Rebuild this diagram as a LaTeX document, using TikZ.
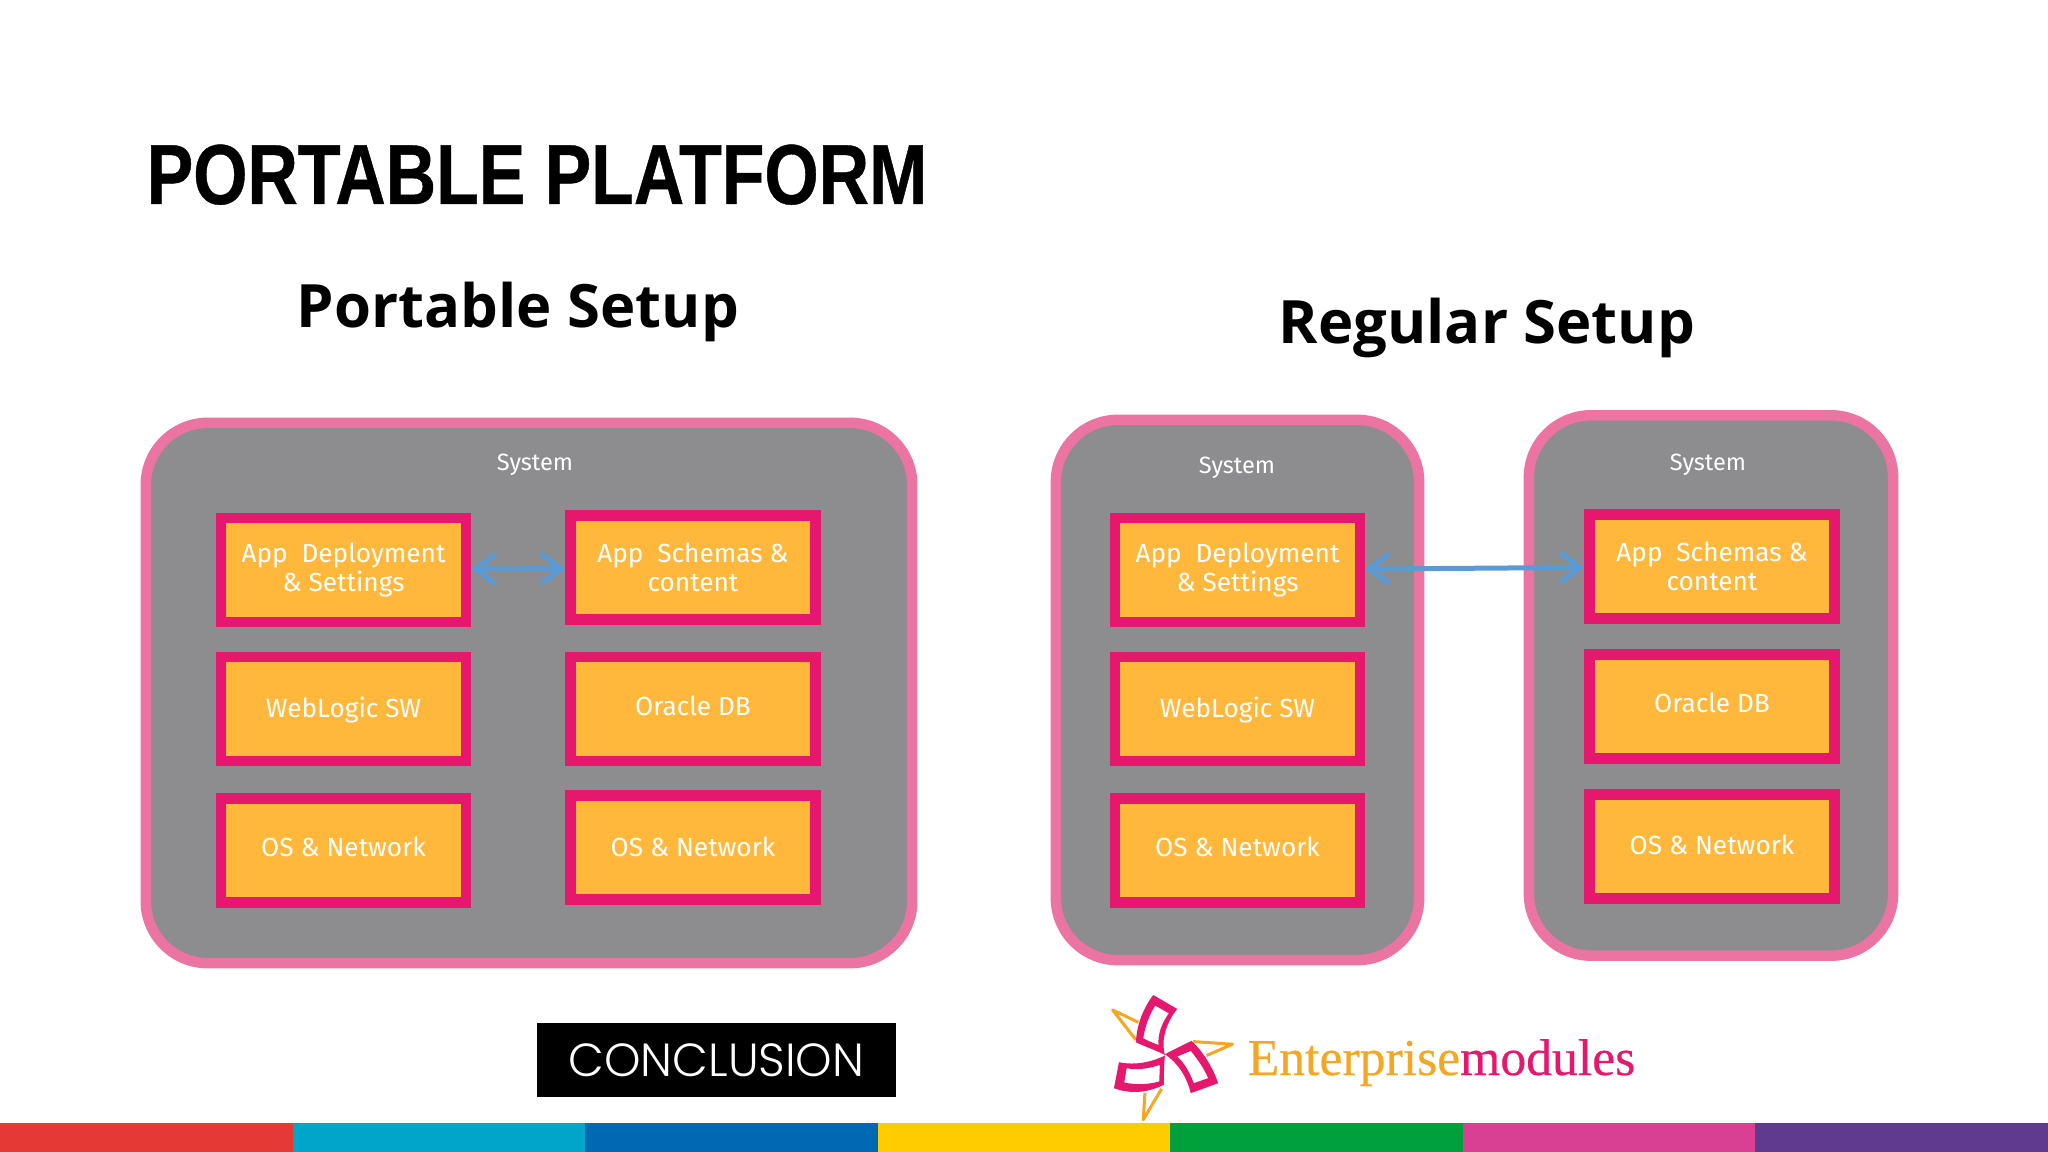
\documentclass[tikz,border=0pt]{standalone}
\usepackage{fontspec}
\usepackage{tikz}
\usetikzlibrary{arrows.meta}
\usetikzlibrary{shadows}
\setmainfont{Fira Sans}
\newfontfamily\titlefont[FakeStretch=0.82,FakeBold=0.5]{Liberation Sans}
\newfontfamily\headfont{Open Sans}
\newfontfamily\brandfont[FakeBold=0.4]{Liberation Serif}
\newfontfamily\concfont{Poppins Light}
\definecolor{sysgray}{HTML}{8D8C8E}
\definecolor{syspink}{HTML}{EC74A3}
\definecolor{boxpink}{HTML}{E5186E}
\definecolor{boxorange}{HTML}{FFB83C}
\definecolor{linkblue}{HTML}{5B9BD5}
\definecolor{logoorange}{HTML}{F5A623}
\tikzset{
	x=0.01cm, y=-0.01cm,
	sysbox/.style={draw=syspink, fill=sysgray, line width=0.105cm, rounded corners=0.62cm},
	layerbox/.style={draw=boxpink, fill=boxorange, line width=0.105cm, text=white, align=center,
		minimum width=2.45cm, minimum height=1.04cm, inner sep=0pt,
		font=\fontsize{7.45pt}{8.3pt}\selectfont,
		drop shadow={shadow xshift=0pt, shadow yshift=-0.035cm, opacity=0.3}},
	oneline/.style={layerbox, text height=0.2cm, text depth=0.08cm},
	systext/.style={text=white, inner sep=0pt, font=\fontsize{6.7pt}{8pt}\selectfont},
	headtext/.style={text=black, inner sep=0pt, font=\headfont\bfseries\fontsize{17pt}{20pt}\selectfont},
	link/.style={draw=linkblue, line width=0.05cm, {Straight Barb[length=0.2cm,width=0.3cm]}-{Straight Barb[length=0.2cm,width=0.3cm]}},
}

\begin{document}
\begin{tikzpicture}
\useasboundingbox (0, 0) rectangle (2048, 1152);
\fill[white] (0, 0) rectangle (2048, 1152);

\node[anchor=base west, inner sep=0pt, font=\titlefont\bfseries\fontsize{24.2pt}{28pt}\selectfont] (title) at (146, 204) {PORTABLE PLATFORM};
\node[headtext] (headportable) at (518, 312) {Portable Setup};
\node[headtext] (headregular) at (1487, 328) {Regular Setup};

\node[sysbox, minimum width=7.66cm, minimum height=5.40cm] (sysportable) at (529, 693) {};
\node[sysbox, minimum width=3.63cm, minimum height=5.40cm] (sysregulara) at (1237.5, 690) {};
\node[sysbox, minimum width=3.64cm, minimum height=5.40cm] (sysregularb) at (1711, 685.5) {};

\node[systext] (labelportable) at (535, 465) {System};
\node[systext] (labelregulara) at (1237, 468) {System};
\node[systext] (labelregularb) at (1708, 465) {System};

\node[layerbox] (appdeploy) at (343.5, 570) {App\ \ Deployment\\\&\ Settings};
\node[oneline, text depth=0.03cm] (weblogic) at (343.5, 709) {WebLogic SW};
\node[oneline] (osleft) at (343.5, 850.5) {OS \& Network};
\node[layerbox] (appschema) at (693, 567.5) {App\ \ Schemas \&\\content};
\node[oneline] (oracle) at (693, 709) {Oracle DB};
\node[oneline, text depth=0.03cm] (osright) at (693, 847.5) {OS \& Network};

\node[layerbox] (appdeployreg) at (1237.5, 570) {App\ \ Deployment\\\&\ Settings};
\node[oneline, text depth=0.03cm] (weblogicreg) at (1237.5, 709) {WebLogic SW};
\node[oneline] (osleftreg) at (1237.5, 850.5) {OS \& Network};
\node[layerbox] (appschemareg) at (1712, 566.5) {App\ \ Schemas \&\\content};
\node[oneline] (oraclereg) at (1712, 706.5) {Oracle DB};
\node[oneline, text depth=0.05cm] (osrightreg) at (1712, 846.5) {OS \& Network};

\draw[link] (appdeploy) -- (appschema);
\draw[link] (appdeployreg) -- (appschemareg);

\node[fill=black, text=white, minimum width=3.59cm, minimum height=0.74cm, inner sep=0pt,
	font=\concfont\fontsize{13.2pt}{15pt}\selectfont] (conclusion) at (716.5, 1060) {CONCLUSION};

\begin{scope}[shift={(1090, 985)}, x=0.00333cm, y=-0.00333cm]
	\draw[logoorange, line width=0.03cm, line join=round] (145, 112) -- (68, 75) -- (138, 165);
	\draw[logoorange, line width=0.03cm, line join=round] (310, 170) -- (428, 178) -- (350, 212);
	\draw[logoorange, line width=0.03cm, line join=round] (215, 312) -- (160, 405) -- (165, 325);
	\fill[boxpink, even odd rule]
		(190, 30) -- (262, 72) .. controls (232, 110) and (212, 160) .. (225, 210)
		.. controls (195, 195) and (165, 185) .. (138, 172) .. controls (140, 120) and (160, 70) .. (190, 30) -- cycle
		(196, 62) -- (237, 85) .. controls (215, 115) and (203, 150) .. (206, 180)
		.. controls (190, 175) and (175, 168) .. (160, 160) .. controls (165, 125) and (178, 90) .. (196, 62) -- cycle;
	\fill[boxpink, even odd rule]
		(225, 208) .. controls (250, 195) and (280, 180) .. (305, 168) .. controls (340, 200) and (370, 250) .. (385, 295)
		-- (303, 325) .. controls (290, 275) and (265, 235) .. (225, 208) -- cycle
		(262, 215) -- (303, 198) .. controls (325, 225) and (345, 255) .. (355, 280)
		-- (312, 295) .. controls (300, 265) and (285, 235) .. (262, 215) -- cycle;
	\fill[boxpink, even odd rule]
		(87, 232) .. controls (135, 242) and (185, 232) .. (225, 212) .. controls (222, 245) and (222, 275) .. (222, 300)
		.. controls (170, 325) and (120, 328) .. (72, 310) -- cycle
		(110, 250) .. controls (145, 257) and (180, 250) .. (210, 240) -- (208, 290)
		.. controls (170, 300) and (135, 300) .. (103, 293) -- cycle;
\end{scope}

\node[anchor=base west, inner sep=0pt, font=\brandfont\fontsize{14.7pt}{16pt}\selectfont] (brand) at (1247, 1075)
	{\textcolor{logoorange}{Enterprise}\textcolor{boxpink}{modules}};

\foreach \i/\c in {0/E53935, 1/00A6CA, 2/0069B4, 3/FFCC00, 4/00A03C, 5/D93F92, 6/5F3A8F}
{
	\definecolor{stripcolor}{HTML}{\c}
	\fill[stripcolor] ({\i*292.57}, 1123) rectangle ({(\i+1)*292.57}, 1152);
}
\end{tikzpicture}
\end{document}
